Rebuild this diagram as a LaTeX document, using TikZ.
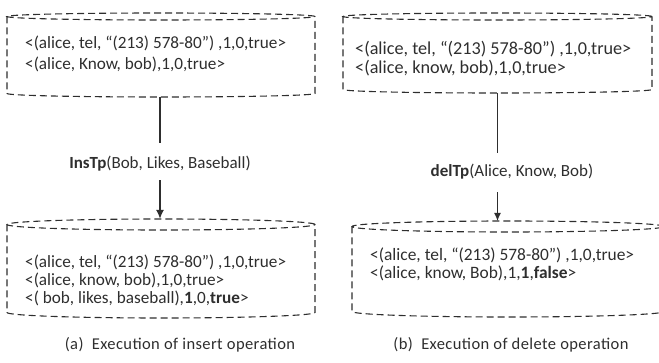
\documentclass[tikz,border=0pt]{standalone}
\usepackage{fontspec}
\setmainfont{Carlito}
\usetikzlibrary{
	arrows.meta,
	positioning,
	calc
}
\definecolor{ink}{HTML}{2E2E2E}
\tikzset{
	store/.style={
		rectangle,
		inner sep=0pt,
		outer sep=0pt
	},
	drum/.style={
		draw=ink,
		dash pattern=on 7pt off 4pt,
		line width=1.1pt
	},
	rows/.style={
		anchor=north west,
		align=left,
		inner sep=0pt,
		text=ink,
		font=\fontsize{17.2}{21}\selectfont
	},
	tightrows/.style={
		rows,
		font=\fontsize{17.2}{18}\selectfont
	},
	opname/.style={
		text=ink,
		inner sep=0pt,
		text height=12pt,
		text depth=4pt,
		font=\fontsize{17}{19}\selectfont
	},
	caption/.style={
		text=ink,
		font=\fontsize{16.5}{18}\selectfont\addfontfeature{LetterSpace=2.5}
	}
}
% dashed database drum around a named box: #1 node, #2 end ellipse y radius
\newcommand\drum[2]{%
	\draw [drum] let \p1 = ($(#1.east)-(#1.west)$) in
		($(#1.north)+(0,#2)$) ellipse [x radius=0.5*\x1, y radius=#2pt]
		($(#1.north west)+(0,#2)$) -- ($(#1.south west)-(0,#2)$)
		arc [start angle=180, end angle=360, x radius=0.5*\x1, y radius=#2pt]
		-- ($(#1.north east)+(0,#2)$);
}

\begin{document}
\begin{tikzpicture}[x=1pt,y=-1pt]
	\useasboundingbox (0,0) rectangle (659,363);

	%% (a) insert
	\node [store, minimum width=308pt, minimum height=84pt] (ins0) at (161,55) {};
	\node [store, minimum width=308pt, minimum height=99pt] (ins1) at (161,268.5) {};
	\drum{ins0}{3.5}
	\drum{ins1}{5.5}
	\node [rows] (insold) at (25,36) {<(alice, tel, “(213) 578-80”) ,1,0,true>\\
		<(alice, Know, bob),1,0,true>};
	\node [tightrows] (insnew) at (25,255) {<(alice, tel, “(213) 578-80”) ,1,0,true>\\
		<(alice, know, bob),1,0,true>\\
		<( bob, likes, baseball),\textbf{1},0,\textbf{true}>};
	\node [opname] (insop) at (160,165) {\textbf{InsTp}(Bob, Likes, Baseball)};
	\draw [ink, line width=2pt, shorten >=14pt] (ins0.south -| insop) -- (insop.north);
	\draw [ink, line width=2pt, shorten <=7pt, -{Latex[length=9pt,width=8pt]}] (insop.south) -- (insop.south |- ins1.north);
	\node [caption] (capa) at (180,345) {(a)\ \ Execution of insert operation};

	%% (b) delete
	\node [store, minimum width=309pt, minimum height=80pt] (del0) at (497.5,53) {};
	\node [store, minimum width=312pt, minimum height=96pt] (del1) at (508,269) {};
	\drum{del0}{3.5}
	\drum{del1}{5.5}
	\node [rows, font=\fontsize{18.2}{19.5}\selectfont] (delold) at (355,40.5) {<(alice, tel, “(213) 578-80”) ,1,0,true>\\
		<(alice, know, bob),1,0,true>};
	\node [tightrows, font=\fontsize{17.4}{18}\selectfont] (delnew) at (370,248) {<(alice, tel, “(213) 578-80”) ,1,0,true>\\
		<(alice, know, Bob),1,\textbf{1},\textbf{false}>};
	\node [opname] (delop) at (512,173) {\textbf{delTp}(Alice, Know, Bob)};
	\draw [ink, line width=1.3pt, shorten >=12pt] (del0.south) -- (del0.south |- delop.north);
	\draw [ink, line width=1.3pt, shorten <=11pt, -{Latex[length=8pt,width=7pt]}] (del0.south |- delop.south) -- (del0.south |- del1.north);
	\node [caption] (capb) at (511,345) {(b)\ \ Execution of delete operation};
\end{tikzpicture}
\end{document}
